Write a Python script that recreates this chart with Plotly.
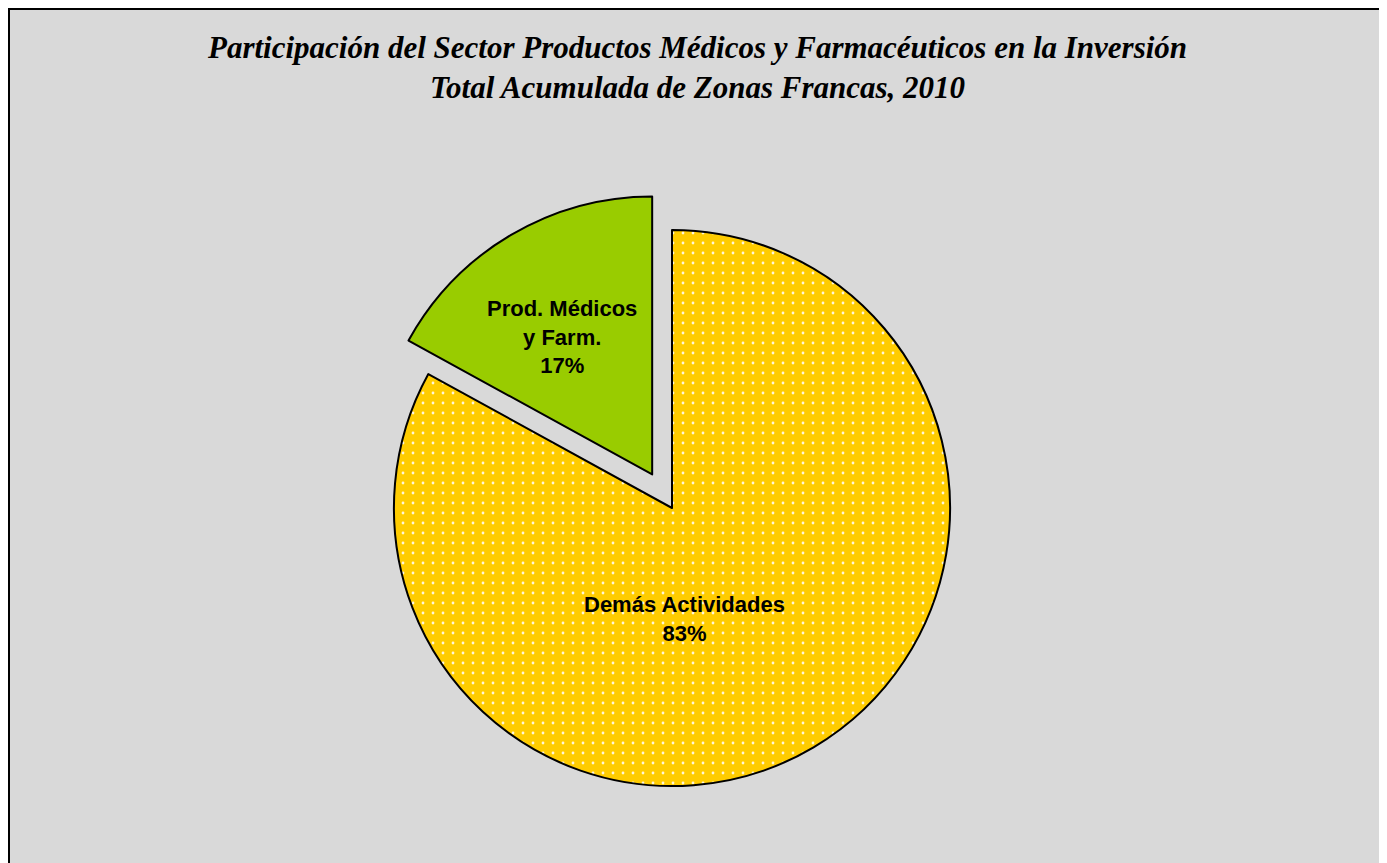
import plotly.graph_objects as go

labels = ["Demás Actividades", "Prod. Médicos<br>y Farm."]
values = [83, 17]
colors = ["#FFCC00", "#99CC00"]
pulls = [0, 0.14]
title_lines = ["Participación del Sector Productos Médicos y Farmacéuticos en la Inversión",
               "Total Acumulada de Zonas Francas, 2010"]

W, H = 1387, 863
OFF = 8  # page offset of the figure


def px_x(x):
    return (x - OFF) / W


def px_y(y):
    return 1 - (y - OFF) / H


fig = go.Figure()
fig.add_trace(go.Pie(
    labels=labels, values=values, sort=False, direction="clockwise", rotation=0,
    pull=pulls, textinfo="none", hoverinfo="label+percent", showlegend=False,
    marker=dict(colors=colors, line=dict(color="black", width=2),
                pattern=dict(shape=[".", ""], fgcolor="white", fgopacity=0.85,
                             bgcolor=colors, size=10, solidity=0.06)),
    domain=dict(x=[px_x(355), px_x(989)], y=[px_y(825), px_y(191)]),
))

total = sum(values)
label_pos = [(684, 619), (562, 337)]
for lab, v, (px, py) in zip(labels, values, label_pos):
    fig.add_annotation(
        x=px_x(px), y=px_y(py), xref="paper", yref="paper",
        xanchor="center", yanchor="middle",
        text=f"<b>{lab}<br>{round(100 * v / total)}%</b>", showarrow=False,
        font=dict(family="Liberation Sans, Arial", size=22, color="black"),
        align="center",
    )

fig.add_annotation(
    x=px_x(697), y=px_y(67), xref="paper", yref="paper",
    xanchor="center", yanchor="middle", showarrow=False, align="center",
    text="<b><i>" + "<br>".join(title_lines) + "</i></b>",
    font=dict(family="Liberation Serif, Times New Roman", size=31, color="black"),
)

fig.add_shape(type="rect", xref="paper", yref="paper",
              x0=1 / W, x1=px_x(1383), y0=-0.05, y1=1 - 1 / H,
              line=dict(color="black", width=2), layer="below")

fig.update_layout(
    width=W, height=H,
    margin=dict(l=0, r=0, t=0, b=0),
    paper_bgcolor="#d9d9d9", plot_bgcolor="#d9d9d9",
)
fig.write_html("out.html")
